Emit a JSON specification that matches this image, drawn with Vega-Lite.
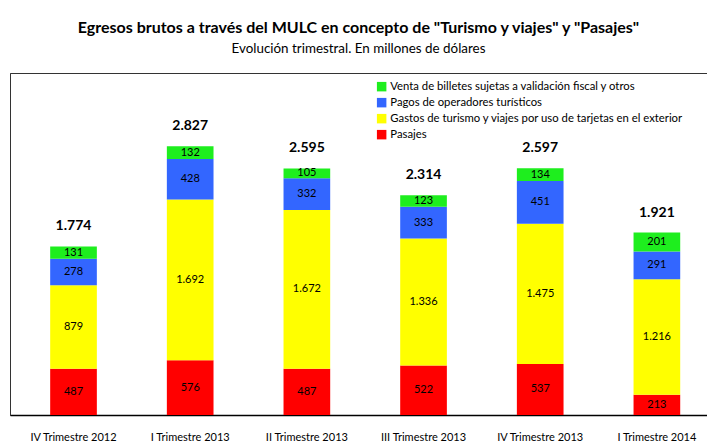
{
  "$schema": "https://vega.github.io/schema/vega-lite/v6.json",
  "width": 697,
  "height": 342,
  "autosize": {"type": "none"},
  "padding": {"left": 10, "top": 73, "right": 0, "bottom": 30},
  "background": "white",
  "title": {
    "text": "Egresos brutos a través del MULC en concepto de \"Turismo y viajes\" y \"Pasajes\"",
    "subtitle": "Evolución trimestral. En millones de dólares",
    "anchor": "middle",
    "offset": 18,
    "font": "Lato",
    "fontSize": 16,
    "fontWeight": "bold",
    "color": "#000",
    "subtitleFont": "Lato",
    "subtitleFontSize": 13.4,
    "subtitleColor": "#000",
    "subtitlePadding": 6
  },
  "config": {
    "font": "Lato",
    "view": {"stroke": "#333", "strokeWidth": 1},
    "locale": {"number": {"decimal": ",", "thousands": ".", "grouping": [3], "currency": ["$", ""]}}
  },
  "datasets": {
    "segs": [
      {"trimestre": "IV Trimestre 2012", "serie": "Pasajes", "orden": 1, "valor": 487},
      {"trimestre": "IV Trimestre 2012", "serie": "Gastos de turismo y viajes por uso de tarjetas en el exterior", "orden": 2, "valor": 879},
      {"trimestre": "IV Trimestre 2012", "serie": "Pagos de operadores turísticos", "orden": 3, "valor": 278},
      {"trimestre": "IV Trimestre 2012", "serie": "Venta de billetes sujetas a validación fiscal y otros", "orden": 4, "valor": 131},
      {"trimestre": "I Trimestre 2013", "serie": "Pasajes", "orden": 1, "valor": 576},
      {"trimestre": "I Trimestre 2013", "serie": "Gastos de turismo y viajes por uso de tarjetas en el exterior", "orden": 2, "valor": 1692},
      {"trimestre": "I Trimestre 2013", "serie": "Pagos de operadores turísticos", "orden": 3, "valor": 428},
      {"trimestre": "I Trimestre 2013", "serie": "Venta de billetes sujetas a validación fiscal y otros", "orden": 4, "valor": 132},
      {"trimestre": "II Trimestre 2013", "serie": "Pasajes", "orden": 1, "valor": 487},
      {"trimestre": "II Trimestre 2013", "serie": "Gastos de turismo y viajes por uso de tarjetas en el exterior", "orden": 2, "valor": 1672},
      {"trimestre": "II Trimestre 2013", "serie": "Pagos de operadores turísticos", "orden": 3, "valor": 332},
      {"trimestre": "II Trimestre 2013", "serie": "Venta de billetes sujetas a validación fiscal y otros", "orden": 4, "valor": 105},
      {"trimestre": "III Trimestre 2013", "serie": "Pasajes", "orden": 1, "valor": 522},
      {"trimestre": "III Trimestre 2013", "serie": "Gastos de turismo y viajes por uso de tarjetas en el exterior", "orden": 2, "valor": 1336},
      {"trimestre": "III Trimestre 2013", "serie": "Pagos de operadores turísticos", "orden": 3, "valor": 333},
      {"trimestre": "III Trimestre 2013", "serie": "Venta de billetes sujetas a validación fiscal y otros", "orden": 4, "valor": 123},
      {"trimestre": "IV Trimestre 2013", "serie": "Pasajes", "orden": 1, "valor": 537},
      {"trimestre": "IV Trimestre 2013", "serie": "Gastos de turismo y viajes por uso de tarjetas en el exterior", "orden": 2, "valor": 1475},
      {"trimestre": "IV Trimestre 2013", "serie": "Pagos de operadores turísticos", "orden": 3, "valor": 451},
      {"trimestre": "IV Trimestre 2013", "serie": "Venta de billetes sujetas a validación fiscal y otros", "orden": 4, "valor": 134},
      {"trimestre": "I Trimestre 2014", "serie": "Pasajes", "orden": 1, "valor": 213},
      {"trimestre": "I Trimestre 2014", "serie": "Gastos de turismo y viajes por uso de tarjetas en el exterior", "orden": 2, "valor": 1216},
      {"trimestre": "I Trimestre 2014", "serie": "Pagos de operadores turísticos", "orden": 3, "valor": 291},
      {"trimestre": "I Trimestre 2014", "serie": "Venta de billetes sujetas a validación fiscal y otros", "orden": 4, "valor": 201}
    ],
    "totales": [
      {"trimestre": "IV Trimestre 2012", "total": 1774},
      {"trimestre": "I Trimestre 2013", "total": 2827},
      {"trimestre": "II Trimestre 2013", "total": 2595},
      {"trimestre": "III Trimestre 2013", "total": 2314},
      {"trimestre": "IV Trimestre 2013", "total": 2597},
      {"trimestre": "I Trimestre 2014", "total": 1921}
    ]
  },
  "encoding": {
    "x": {
      "field": "trimestre",
      "type": "nominal",
      "sort": ["IV Trimestre 2012", "I Trimestre 2013", "II Trimestre 2013", "III Trimestre 2013", "IV Trimestre 2013", "I Trimestre 2014"],
      "scale": {"paddingInner": 0.6, "paddingOuter": 0.287, "align": 0.6},
      "axis": {
        "title": null,
        "labelAngle": 0,
        "labelFont": "Lato",
        "labelFontSize": 11,
        "labelColor": "#000",
        "labelPadding": 16,
        "ticks": false,
        "domainColor": "#000",
        "domainWidth": 1.5
      }
    }
  },
  "layer": [
    {
      "data": {"name": "segs"},
      "transform": [
        {"stack": "valor", "groupby": ["trimestre"], "sort": [{"field": "orden", "order": "ascending"}], "as": ["v0", "v1"]},
        {"calculate": "(datum.v0 + datum.v1) / 2", "as": "vmid"}
      ],
      "layer": [
        {
          "mark": {"type": "bar"},
          "encoding": {
            "y": {
              "field": "v0",
              "type": "quantitative",
              "scale": {"domain": [0, 3600], "nice": false},
              "axis": {"title": null, "labels": false, "ticks": false, "grid": false, "domainColor": "#333", "domainWidth": 1}
            },
            "y2": {"field": "v1"},
            "color": {
              "field": "serie",
              "type": "nominal",
              "scale": {
                "domain": ["Venta de billetes sujetas a validación fiscal y otros", "Pagos de operadores turísticos", "Gastos de turismo y viajes por uso de tarjetas en el exterior", "Pasajes"],
                "range": ["#1EEE1E", "#3366FF", "#FFFF00", "#FF0000"]
              },
              "legend": {
                "title": null,
                "orient": "none",
                "legendX": 366,
                "legendY": 8,
                "symbolType": "square",
                "symbolSize": 90,
                "symbolStrokeWidth": 0,
                "symbolOpacity": 1,
                "labelFont": "Lato",
                "labelFontSize": 11.3,
                "labelColor": "#000",
                "labelOffset": 3,
                "rowPadding": 4,
                "labelLimit": 400
              }
            }
          }
        },
        {
          "mark": {"type": "text", "font": "Lato", "fontSize": 11, "color": "#000", "baseline": "middle"},
          "encoding": {
            "y": {"field": "vmid", "type": "quantitative"},
            "text": {"field": "valor", "type": "quantitative", "format": ",d"}
          }
        }
      ]
    },
    {
      "data": {"name": "totales"},
      "mark": {"type": "text", "font": "Lato", "fontSize": 14, "fontWeight": "bold", "color": "#000", "baseline": "bottom", "dy": -13},
      "encoding": {
        "y": {"field": "total", "type": "quantitative"},
        "text": {"field": "total", "type": "quantitative", "format": ",d"}
      }
    }
  ]
}
